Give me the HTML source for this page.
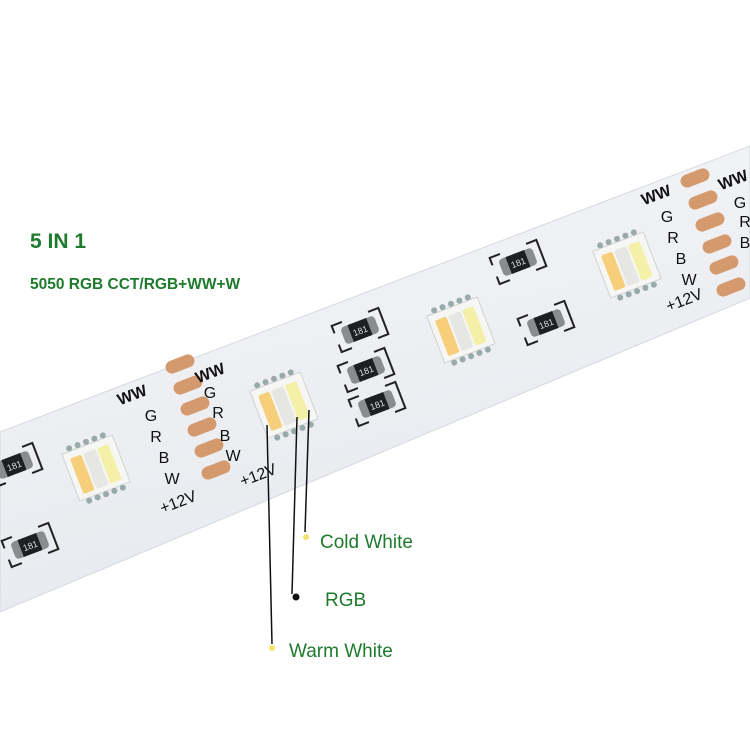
<!DOCTYPE html>
<html><head><style>
html,body{margin:0;padding:0;background:#fff;width:750px;height:750px;overflow:hidden}
svg{display:block}
</style></head><body>
<svg width="750" height="750" viewBox="0 0 750 750" xmlns="http://www.w3.org/2000/svg" font-family="Liberation Sans, sans-serif">
<defs>
<linearGradient id="strip" x1="0" y1="0" x2="0.35" y2="1">
<stop offset="0" stop-color="#f5f6f8"/><stop offset="1" stop-color="#e6e9ee"/>
</linearGradient>
<g id="led">
<rect x="-27" y="-25" width="54" height="50" fill="#f6f7f5" stroke="#d0d2d2"/>
<rect x="-21" y="-18" width="12" height="38" rx="2" fill="#f7cf7a"/>
<rect x="-7" y="-18" width="13" height="38" rx="2" fill="#e6e6e4"/>
<rect x="8" y="-18" width="12" height="38" rx="2" fill="#f5f0a8"/>
<circle cx="-18" cy="-28" r="3" fill="#9aa"/><circle cx="-9" cy="-28" r="3" fill="#9aa"/><circle cx="0" cy="-28" r="3" fill="#9aa"/><circle cx="9" cy="-28" r="3" fill="#9aa"/><circle cx="18" cy="-28" r="3" fill="#9aa"/>
<circle cx="-18" cy="28" r="3" fill="#9aa"/><circle cx="-9" cy="28" r="3" fill="#9aa"/><circle cx="0" cy="28" r="3" fill="#9aa"/><circle cx="9" cy="28" r="3" fill="#9aa"/><circle cx="18" cy="28" r="3" fill="#9aa"/>
</g>
<g id="res">
<path d="M-25,-6 V-14 H-14 M14,-14 H25 V14 H14 M-14,14 H-25 V6" fill="none" stroke="#222" stroke-width="2"/>
<rect x="-18" y="-9" width="36" height="18" rx="4" fill="#8a8d90"/>
<rect x="-10" y="-9" width="20" height="18" fill="#1d1f22"/>
<text x="0" y="4" font-size="9" fill="#ddd" text-anchor="middle">181</text>
</g>
<rect id="pad" x="-15" y="-6.5" width="30" height="13" rx="6.5" fill="#d49a6e"/>
</defs>

<polygon points="0,432 750,146 750,298 0,612" fill="url(#strip)" stroke="#d6d9de"/>

<use href="#led" transform="translate(96,468) rotate(-21)"/>
<use href="#led" transform="translate(284,405) rotate(-21)"/>
<use href="#led" transform="translate(461,330) rotate(-21)"/>
<use href="#led" transform="translate(627,265) rotate(-21)"/>

<use href="#res" transform="translate(14,465) rotate(-21)"/>
<use href="#res" transform="translate(30,545) rotate(-21)"/>
<use href="#res" transform="translate(360,330) rotate(-21)"/>
<use href="#res" transform="translate(366,370) rotate(-21)"/>
<use href="#res" transform="translate(377,404) rotate(-21)"/>
<use href="#res" transform="translate(518,262) rotate(-21)"/>
<use href="#res" transform="translate(546,323) rotate(-21)"/>

<g>
<use href="#pad" transform="translate(180,364) rotate(-21)"/>
<use href="#pad" transform="translate(188,385) rotate(-21)"/>
<use href="#pad" transform="translate(195,406) rotate(-21)"/>
<use href="#pad" transform="translate(202,427) rotate(-21)"/>
<use href="#pad" transform="translate(209,448) rotate(-21)"/>
<use href="#pad" transform="translate(216,470) rotate(-21)"/>
<use href="#pad" transform="translate(695,178) rotate(-21)"/>
<use href="#pad" transform="translate(703,200) rotate(-21)"/>
<use href="#pad" transform="translate(710,222) rotate(-21)"/>
<use href="#pad" transform="translate(717,244) rotate(-21)"/>
<use href="#pad" transform="translate(724,265) rotate(-21)"/>
<use href="#pad" transform="translate(731,287) rotate(-21)"/>
</g>

<g font-size="16" fill="#111" text-anchor="middle">
<text transform="translate(134,400) rotate(-21)" font-weight="bold">WW</text>
<text x="151" y="421">G</text><text x="156" y="442">R</text><text x="164" y="463">B</text><text x="172" y="484">W</text>
<text transform="translate(180,507) rotate(-21)">+12V</text>
<text transform="translate(212,378) rotate(-21)" font-weight="bold">WW</text>
<text x="210" y="398">G</text><text x="218" y="418">R</text><text x="225" y="441">B</text><text x="233" y="461">W</text>
<text transform="translate(260,480) rotate(-21)">+12V</text>
<text transform="translate(658,200) rotate(-21)" font-weight="bold">WW</text>
<text x="667" y="222">G</text><text x="673" y="243">R</text><text x="681" y="264">B</text><text x="689" y="285">W</text>
<text transform="translate(686,305) rotate(-21)">+12V</text>
<text transform="translate(735,185) rotate(-21)" font-weight="bold">WW</text>
<text x="740" y="208">G</text><text x="745" y="227">R</text><text x="745" y="248">B</text>
</g>

<g stroke="#111" stroke-width="1.5">
<line x1="267" y1="425" x2="272" y2="644"/>
<line x1="297" y1="417" x2="292" y2="594"/>
<line x1="309" y1="410" x2="305" y2="532"/>
</g>
<circle cx="306" cy="537" r="3" fill="#f2e46a"/>
<circle cx="296" cy="597" r="3.5" fill="#111"/>
<circle cx="272" cy="648" r="3" fill="#f2e46a"/>

<g fill="#1e7a2c" font-weight="bold">
<text x="30" y="248" font-size="21">5 IN 1</text>
<text x="30" y="289" font-size="15.5">5050 RGB CCT/RGB+WW+W</text>
<text x="320" y="548" font-size="19" font-weight="normal">Cold White</text>
<text x="325" y="606" font-size="19" font-weight="normal">RGB</text>
<text x="289" y="657" font-size="19" font-weight="normal">Warm White</text>
</g>
</svg>
</body></html>
